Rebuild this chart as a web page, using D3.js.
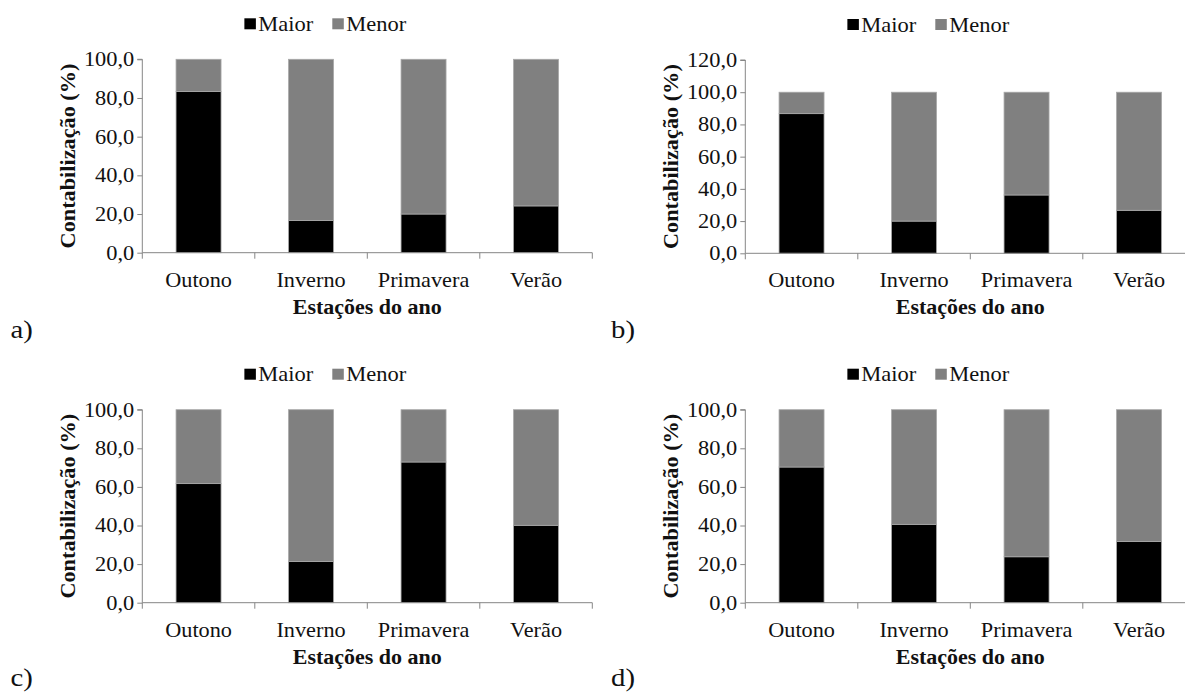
<!DOCTYPE html>
<html>
<head>
<meta charset="utf-8">
<script src="https://cdn.jsdelivr.net/npm/d3@7"></script>
<style>
  html, body { margin: 0; padding: 0; background: #fff; }
  svg { display: block; font-family: "Liberation Serif", "Times New Roman", serif; }
</style>
</head>
<body>
<svg id="chart" width="1185" height="692"></svg>
<script>
// ---------- data ----------
const seasons = ["Outono", "Inverno", "Primavera", "Verão"];
const seriesNames = ["Maior", "Menor"];

const maiorA = [83.3, 16.7, 20.0, 24.2];
const menorA = [16.7, 83.3, 80.0, 75.8];

const maiorB = [86.7, 20.0, 36.2, 26.7];
const menorB = [13.3, 80.0, 63.8, 73.3];

const maiorC = [61.7, 21.4, 72.9, 40.1];
const menorC = [38.3, 78.6, 27.1, 59.9];

const maiorD = [70.3, 40.6, 23.8, 31.7];
const menorD = [29.7, 59.4, 76.2, 68.3];

const ticks100 = [0, 20, 40, 60, 80, 100];
const ticks120 = [0, 20, 40, 60, 80, 100, 120];

const panelLetters = ["a)", "b)", "c)", "d)"];
const yTitle = "Contabilização (%)";
const xTitle = "Estações do ano";

// ---------- layout ----------
const panels = [
  { maior: maiorA, menor: menorA, ticks: ticks100, left: 142.3, top: 59.3, bottom: 252.7, letterX: 10.5, letterY: 338 },
  { maior: maiorB, menor: menorB, ticks: ticks120, left: 745.3, top: 60.0, bottom: 253.3, letterX: 611, letterY: 338 },
  { maior: maiorC, menor: menorC, ticks: ticks100, left: 142.3, top: 409.7, bottom: 602.7, letterX: 10.5, letterY: 686 },
  { maior: maiorD, menor: menorD, ticks: ticks100, left: 745.3, top: 409.7, bottom: 602.7, letterX: 611, letterY: 686 }
];
const plotW = 450;
const colors = { Maior: "#000000", Menor: "#808080" };
const axisColor = "#868686";
const textColor = "#111";

const svg = d3.select("#chart");

function stretch(sel, factor) {
  sel.each(function () {
    const n = this.getComputedTextLength();
    if (n > 0) {
      d3.select(this).attr("textLength", n * factor).attr("lengthAdjust", "spacingAndGlyphs");
    }
  });
}

panels.forEach((p, i) => {
  const g = svg.append("g");
  const right = p.left + plotW;
  const x = d3.scaleBand().domain(seasons).range([p.left, right]).paddingInner(0).paddingOuter(0);
  const y = d3.scaleLinear().domain([0, d3.max(p.ticks)]).range([p.bottom, p.top]);
  const barW = x.bandwidth() * 0.4;

  const rows = seasons.map((s, k) => ({ season: s, Maior: p.maior[k], Menor: p.menor[k] }));
  const stacked = d3.stack().keys(seriesNames)(rows);

  // bars
  stacked.forEach(layer => {
    g.append("g").selectAll("rect").data(layer).join("rect")
      .attr("x", d => x(d.data.season) + (x.bandwidth() - barW) / 2)
      .attr("width", barW)
      .attr("y", d => y(d[1]))
      .attr("height", d => y(d[0]) - y(d[1]))
      .attr("fill", colors[layer.key])
      .attr("stroke", "#a8a8a8")
      .attr("stroke-width", 0.8);
  });

  // y axis
  const yAxis = g.append("g")
    .attr("transform", `translate(${p.left},0)`)
    .call(d3.axisLeft(y).tickValues(p.ticks).tickSize(5).tickPadding(3)
      .tickFormat(d => d.toFixed(1).replace(".", ",")));
  yAxis.select(".domain").attr("stroke", axisColor).attr("d", `M-5,${p.top}H0V${p.bottom}`);
  yAxis.selectAll(".tick line").attr("stroke", axisColor);
  yAxis.selectAll(".tick text").attr("font-size", 20).attr("fill", textColor)
    .attr("font-family", "Liberation Serif");
  stretch(yAxis.selectAll(".tick text"), 1.12);

  // x axis: line, boundary ticks, labels
  const xAxis = g.append("g")
    .attr("transform", `translate(0,${p.bottom})`)
    .call(d3.axisBottom(x).tickSize(0).tickPadding(19));
  xAxis.select(".domain").attr("stroke", axisColor).attr("d", `M${p.left},0H${right}`);
  xAxis.selectAll(".tick text").attr("font-size", 21).attr("fill", textColor)
    .attr("font-family", "Liberation Serif");
  stretch(xAxis.selectAll(".tick text"), 1.06);
  const bounds = seasons.map(s => x(s)).concat([right]);
  g.append("g").selectAll("line").data(bounds).join("line")
    .attr("x1", d => d).attr("x2", d => d)
    .attr("y1", p.bottom).attr("y2", p.bottom + 6)
    .attr("stroke", axisColor);

  // axis titles
  const cx = p.left + plotW / 2;
  const xt = g.append("text")
    .attr("x", cx).attr("y", p.bottom + 61)
    .attr("text-anchor", "middle").attr("font-weight", "bold").attr("font-size", 20)
    .attr("fill", textColor).text(xTitle);
  stretch(xt, 1.1);

  const yt = g.append("text")
    .attr("transform", `translate(${p.left - 67},${(p.top + p.bottom) / 2}) rotate(-90)`)
    .attr("text-anchor", "middle").attr("font-weight", "bold").attr("font-size", 21)
    .attr("fill", textColor).text(yTitle);
  stretch(yt, 1.06);

  // legend
  const legCx = cx - 42;
  const legTop = p.top - 41;
  const leg = g.append("g");
  const items = leg.selectAll("g").data(seriesNames).join("g");
  items.append("rect")
    .attr("width", 11.5).attr("height", 11)
    .attr("y", legTop)
    .attr("fill", d => colors[d]);
  items.append("text")
    .attr("y", legTop + 12.5)
    .attr("font-size", 21).attr("fill", textColor)
    .text(d => d);
  stretch(items.selectAll("text"), 1.07);
  const widths = items.selectAll("text").nodes().map(n => +n.getAttribute("textLength"));
  const gap = 2.5, itemGap = 19;
  const total = widths.reduce((a, b) => a + b, 0) + 2 * (11.5 + gap) + itemGap;
  let cur = legCx - total / 2;
  items.each(function (d, k) {
    const it = d3.select(this);
    it.select("rect").attr("x", cur);
    it.select("text").attr("x", cur + 11.5 + gap);
    cur += 11.5 + gap + widths[k] + itemGap;
  });

  // panel letter
  const lt = g.append("text")
    .attr("x", p.letterX).attr("y", p.letterY)
    .attr("font-size", 25).attr("fill", textColor)
    .text(panelLetters[i]);
  stretch(lt, 1.15);
});
</script>
</body>
</html>
